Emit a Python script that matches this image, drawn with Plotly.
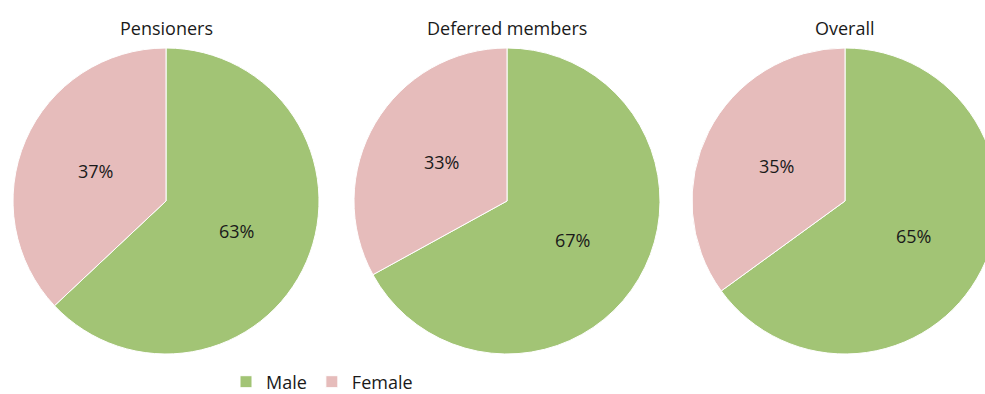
import math
import plotly.graph_objects as go

# Gender split by membership group (percent)
groups = ["Pensioners", "Deferred members", "Overall"]
labels = ["Male", "Female"]
male_pct = [63, 67, 65]
female_pct = [37, 33, 35]

colors = ["#A2C475", "#E6BCBB"]
font_family = "Open Sans, Lato, sans-serif"
text_color = "#1a1a1a"
font_size = 18

W, H = 1000, 394
# pie squares in pixels: (left, right), shared vertical extent
pie_x_px = [(13, 319), (354, 660), (692, 998)]
pie_top_px, pie_bottom_px = 48, 354

fig = go.Figure()
annotations = []
for i, name in enumerate(groups):
    values = [male_pct[i], female_pct[i]]
    x0, x1 = pie_x_px[i]
    dom_x = [x0 / W, x1 / W]
    dom_y = [(H - pie_bottom_px) / H, (H - pie_top_px) / H]
    fig.add_trace(go.Pie(
        labels=labels,
        values=values,
        sort=False,
        direction="clockwise",
        rotation=0,
        marker=dict(colors=colors, line=dict(color="white", width=1)),
        textinfo="none",
        hoverinfo="label+percent",
        domain=dict(x=dom_x, y=dom_y),
        showlegend=(i == 0),
    ))

    # percentage labels at half radius along each slice's mid-angle
    cx = (x0 + x1) / 2
    cy = (pie_top_px + pie_bottom_px) / 2
    r = (x1 - x0) / 2
    total = sum(values)
    start = 0.0
    for v in values:
        frac = v / total
        mid = (start + frac / 2) * 2 * math.pi
        px = cx + 0.5 * r * math.sin(mid)
        py = cy - 0.5 * r * math.cos(mid)
        annotations.append(dict(
            x=px / W, y=(H - py) / H, xref="paper", yref="paper",
            text=f"{v}%", showarrow=False,
            font=dict(size=font_size, color=text_color, family=font_family),
            xanchor="center", yanchor="middle",
        ))
        start += frac

    # group title above each pie
    annotations.append(dict(
        x=cx / W, y=(H - 28) / H, xref="paper", yref="paper",
        text=name, showarrow=False,
        font=dict(size=font_size, color=text_color, family=font_family),
        xanchor="center", yanchor="middle",
    ))

fig.update_layout(
    width=W, height=H,
    margin=dict(l=0, r=0, t=0, b=0, autoexpand=False),
    paper_bgcolor="white",
    plot_bgcolor="white",
    font=dict(family=font_family, size=font_size, color=text_color),
    annotations=annotations,
    legend=dict(
        orientation="h",
        x=226 / W, xanchor="left",
        y=(H - 382) / H, yanchor="middle",
        itemwidth=30,
        font=dict(size=font_size, color=text_color, family=font_family),
        bgcolor="rgba(0,0,0,0)",
        traceorder="normal",
    ),
)

fig.write_html(
    "out.html",
    post_script="document.documentElement.style.overflow='hidden';document.body.style.overflow='hidden';",
)
